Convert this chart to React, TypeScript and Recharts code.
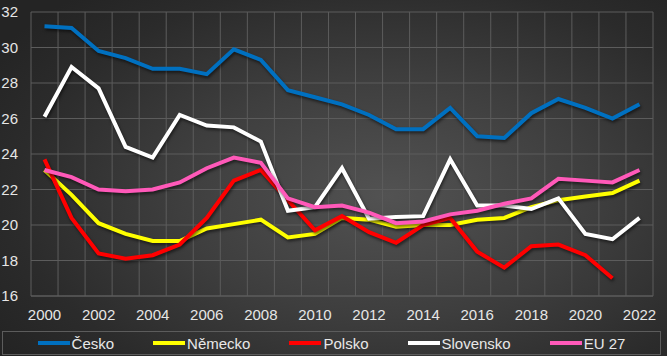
import { CartesianGrid, Legend, Line, LineChart, XAxis, YAxis } from "recharts";

const years = [
	"2000", "2001", "2002", "2003", "2004", "2005", "2006", "2007", "2008", "2009", "2010", "2011",
	"2012", "2013", "2014", "2015", "2016", "2017", "2018", "2019", "2020", "2021", "2022",
];

const cesko = [
	31.2, 31.1, 29.8, 29.4, 28.8, 28.8, 28.5, 29.9, 29.3, 27.6, 27.2, 26.8,
	26.2, 25.4, 25.4, 26.6, 25.0, 24.9, 26.3, 27.1, 26.6, 26.0, 26.8,
];
const nemecko = [
	23.1, 21.7, 20.1, 19.5, 19.1, 19.1, 19.8, 20.05, 20.3, 19.3, 19.5, 20.4,
	20.3, 19.9, 20.0, 20.0, 20.3, 20.4, 21.0, 21.4, 21.6, 21.8, 22.5,
];
const polsko = [
	23.7, 20.4, 18.4, 18.1, 18.3, 18.9, 20.4, 22.5, 23.1, 21.4, 19.7, 20.5,
	19.6, 19.0, 20.0, 20.4, 18.5, 17.6, 18.8, 18.9, 18.3, 17.0, null,
];
const slovensko = [
	26.1, 28.9, 27.7, 24.4, 23.8, 26.2, 25.6, 25.5, 24.7, 20.8, 21.0, 23.2,
	20.35, 20.45, 20.5, 23.7, 21.1, 21.1, 20.9, 21.5, 19.5, 19.2, 20.4,
];
const eu27 = [
	23.1, 22.7, 22.0, 21.9, 22.0, 22.4, 23.2, 23.8, 23.5, 21.5, 21.0, 21.1,
	20.7, 20.1, 20.2, 20.6, 20.8, 21.2, 21.5, 22.6, 22.5, 22.4, 23.1,
];

const yTicks = [16, 18, 20, 22, 24, 26, 28, 30, 32];

const series = [
	{ key: "cesko", name: "Česko", color: "#0070c0" },
	{ key: "nemecko", name: "Německo", color: "#ffff00" },
	{ key: "polsko", name: "Polsko", color: "#ff0000" },
	{ key: "slovensko", name: "Slovensko", color: "#ffffff" },
	{ key: "eu27", name: "EU 27", color: "#ff59b9" },
];

const data = years.map((year, i) => ({
	year,
	cesko: cesko[i],
	nemecko: nemecko[i],
	polsko: polsko[i],
	slovensko: slovensko[i],
	eu27: eu27[i],
}));

const font = "'Liberation Sans', Arial, sans-serif";
const gridColor = "#5c5c5c";
const order = series.map((s) => s.name);

function LegendBox({ payload }: any) {
	const items = [...(payload || [])].sort(
		(a: any, b: any) => order.indexOf(a.value) - order.indexOf(b.value),
	);
	return (
		<div
			style={{
				height: 24,
				boxSizing: "border-box",
				border: `1px solid ${gridColor}`,
				display: "flex",
				alignItems: "center",
				justifyContent: "center",
				gap: 39,
				fontFamily: font,
				fontSize: 15,
				color: "#e8e8e8",
			}}
		>
			{items.map((p: any) => (
				<div key={p.value} style={{ display: "flex", alignItems: "center" }}>
					<svg width={32} height={6} style={{ marginRight: 2 }}>
						<line x1={0} y1={3} x2={32} y2={3} stroke={p.color} strokeWidth={4} />
					</svg>
					<span>{p.value}</span>
				</div>
			))}
		</div>
	);
}

export default function App() {
	return (
		<div
			style={{
				width: 667,
				height: 356,
				background:
					"radial-gradient(ellipse 70% 75% at 58% 55%, #525252 0%, #3e3e3e 45%, #2b2b2b 80%, #242424 100%)",
			}}
		>
			<style>{`
				body { margin: 0; }
				.recharts-line-curve { filter: drop-shadow(1px 2px 1.5px rgba(0,0,0,0.55)); }
			`}</style>
			<LineChart
				width={667}
				height={356}
				data={data}
				margin={{ top: 12, right: 14, bottom: 1, left: 0 }}
			>
				<CartesianGrid
					stroke={gridColor}
					strokeWidth={1}
					verticalCoordinatesGenerator={({ offset }: any) =>
						Array.from({ length: years.length + 1 }, (_, i) => offset.left + (i * offset.width) / years.length)
					}
				/>
				<XAxis
					dataKey="year"
					interval={1}
					height={35}
					padding={{ left: 13.5, right: 13.5 }}
					axisLine={{ stroke: gridColor }}
					tickLine={false}
					tickSize={0}
					tickMargin={13}
					tick={{ fill: "#e6e6e6", fontSize: 15, fontFamily: font }}
				/>
				<YAxis
					domain={[16, 32]}
					ticks={yTicks}
					interval={0}
					width={31}
					axisLine={false}
					tickLine={false}
					tickSize={0}
					tickMargin={13}
					tick={{ fill: "#e6e6e6", fontSize: 15, fontFamily: font }}
				/>
				<Legend
					verticalAlign="bottom"
					height={24}
					wrapperStyle={{ left: 2, width: 659 }}
					content={<LegendBox />}
				/>
				{series.map((s) => (
					<Line
						key={s.key}
						dataKey={s.key}
						name={s.name}
						stroke={s.color}
						strokeWidth={4}
						dot={false}
						activeDot={false}
						type="linear"
						isAnimationActive={false}
					/>
				))}
			</LineChart>
		</div>
	);
}
